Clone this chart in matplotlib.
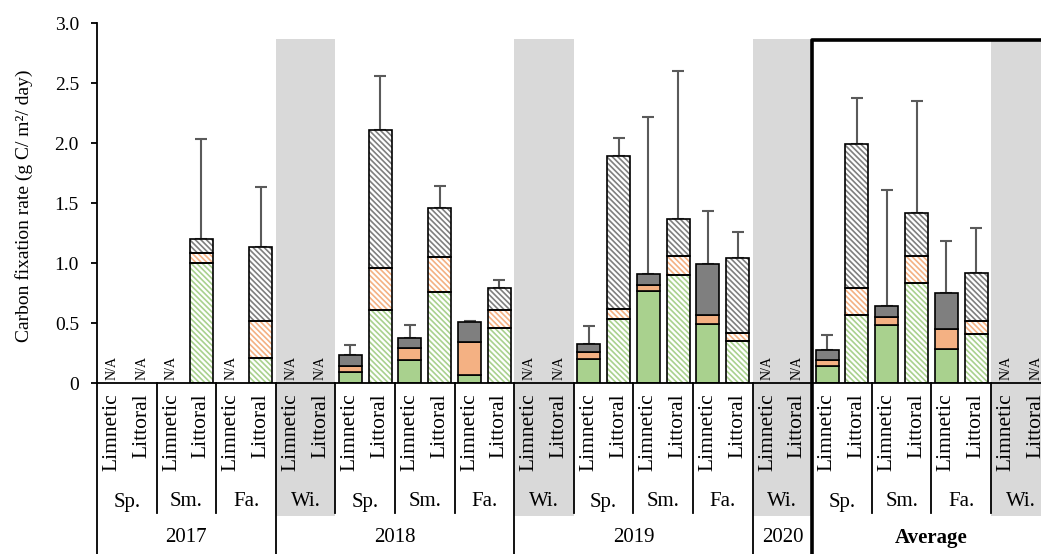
import numpy as np
import matplotlib.pyplot as plt
import matplotlib.transforms as mtransforms
from matplotlib.patches import Rectangle

plt.rcParams["font.family"] = ["Liberation Serif", "DejaVu Serif"]
plt.rcParams["hatch.linewidth"] = 1.2

nan = np.nan

# x-axis structure
years = ["2017", "2018", "2019", "2020", "Average"]
year_seasons = [["Sp.", "Sm.", "Fa."],
                ["Wi.", "Sp.", "Sm.", "Fa."],
                ["Wi.", "Sp.", "Sm.", "Fa."],
                ["Wi."],
                ["Sp.", "Sm.", "Fa.", "Wi."]]
sites = ["Limnetic", "Littoral"]

# stacked components per bar (limnetic, littoral alternating), nan = N/A
green = [nan, nan, nan, 1.00, nan, 0.21, nan, nan,
         0.094, 0.61, 0.19, 0.76, 0.07, 0.455, nan, nan,
         0.20, 0.53, 0.77, 0.90, 0.49, 0.35, nan, nan,
         0.14, 0.57, 0.48, 0.835, 0.28, 0.405, nan, nan]
orange = [nan, nan, nan, 0.08, nan, 0.31, nan, nan,
          0.05, 0.35, 0.10, 0.29, 0.27, 0.15, nan, nan,
          0.06, 0.09, 0.045, 0.16, 0.075, 0.07, nan, nan,
          0.05, 0.22, 0.07, 0.22, 0.17, 0.11, nan, nan]
grey = [nan, nan, nan, 0.12, nan, 0.61, nan, nan,
        0.09, 1.15, 0.085, 0.41, 0.17, 0.19, nan, nan,
        0.065, 1.27, 0.095, 0.31, 0.43, 0.62, nan, nan,
        0.085, 1.20, 0.09, 0.36, 0.30, 0.40, nan, nan]
err = [nan, nan, nan, 0.83, nan, 0.50, nan, nan,
       0.08, 0.45, 0.105, 0.18, 0.01, 0.06, nan, nan,
       0.15, 0.155, 1.31, 1.23, 0.435, 0.215, nan, nan,
       0.125, 0.385, 0.965, 0.935, 0.435, 0.38, nan, nan]

colors = ["#A9D18E", "#F4B183", "#7F7F7F"]

fig = plt.figure(figsize=(10.41, 5.54), dpi=100)
ax = fig.add_axes([97 / 1041, (554 - 383) / 554, 944 / 1041, 360 / 554])
slot = 29.8
ax.set_xlim(-0.5, -0.5 + 944 / slot)
ax.set_ylim(0, 3.0)

trans = mtransforms.blended_transform_factory(ax.transData, ax.transAxes)


def ya(p):
    # pixel row (from top of image) -> axes fraction
    return (383 - p) / 360


g = np.array(green)
o = np.array(orange)
k = np.array(grey)
e = np.array(err)
x = np.arange(len(g))
valid = ~np.isnan(g)
w = 0.77

# bars
for i in x[valid]:
    bottoms = [0, g[i], g[i] + o[i]]
    heights = [g[i], o[i], k[i]]
    for b, h, c in zip(bottoms, heights, colors):
        if i % 2 == 0:
            ax.bar(i, h, bottom=b, width=w, color=c, edgecolor="black",
                   linewidth=1.2, zorder=3)
        else:
            ax.bar(i, h, bottom=b, width=w, facecolor="white", edgecolor=c,
                   hatch="\\" * 6, linewidth=0, zorder=3)
            ax.bar(i, h, bottom=b, width=w, fill=False, edgecolor="black",
                   linewidth=1.2, zorder=4)

total = g + o + k
ax.errorbar(x[valid], total[valid], yerr=[np.zeros(valid.sum()), e[valid]],
            fmt="none", ecolor="#5a5a5a", elinewidth=1.5, capsize=4.5,
            capthick=1.5, zorder=2)

# N/A markers
for i in x[~valid]:
    ax.text(i, 0.025, "N/A", rotation=90, ha="center", va="bottom",
            fontsize=10, zorder=5)

# category labels, shading and separators
pos = 0
for yi, (yr, seas) in enumerate(zip(years, year_seasons)):
    start = pos
    for s in seas:
        if s == "Wi.":
            ax.add_patch(Rectangle((pos - 0.5, ya(516)), 2, ya(39) - ya(516),
                                   transform=trans, facecolor="#D9D9D9",
                                   edgecolor="none", clip_on=False, zorder=0))
        for j, site in enumerate(sites):
            ax.text(pos + j, ya(393), site, transform=trans, rotation=90,
                    ha="center", va="top", fontsize=15.5)
        ax.text(pos + 0.5, ya(502), s, transform=trans, ha="center",
                va="center", fontsize=15)
        if pos != start:
            ax.plot([pos - 0.5, pos - 0.5], [0, ya(513)], transform=trans,
                    color="black", linewidth=1.3, clip_on=False)
        pos += 2
    ax.text((start + pos) / 2 - 0.5, ya(538), yr, transform=trans,
            ha="center", va="center", fontsize=15,
            fontweight="bold" if yr == "Average" else "normal")
    if yr != "Average":
        ax.plot([start - 0.5, start - 0.5], [0, ya(560)], transform=trans,
                color="black", linewidth=1.3, clip_on=False)
    else:
        ax.plot([start - 0.5, start - 0.5, pos], [ya(560), ya(40), ya(40)],
                transform=trans, color="black", linewidth=2.6,
                clip_on=False, zorder=6)

ax.set_xticks([])
ax.set_yticks(np.arange(0, 3.01, 0.5))
ax.set_yticklabels(["0", "0.5", "1.0", "1.5", "2.0", "2.5", "3.0"])
ax.tick_params(axis="y", direction="out", length=4, width=1.3, pad=9,
               labelsize=14)
ax.spines["top"].set_visible(False)
ax.spines["right"].set_visible(False)
ax.spines["left"].set_linewidth(1.3)
ax.spines["bottom"].set_linewidth(1.3)
ax.spines["bottom"].set_zorder(5)

fig.text(24 / 1041, (554 - 206) / 554, "Carbon fixation rate (g C/ m²/ day)",
         rotation=90, ha="center", va="center", fontsize=14)

plt.savefig("out.png", dpi=100)
